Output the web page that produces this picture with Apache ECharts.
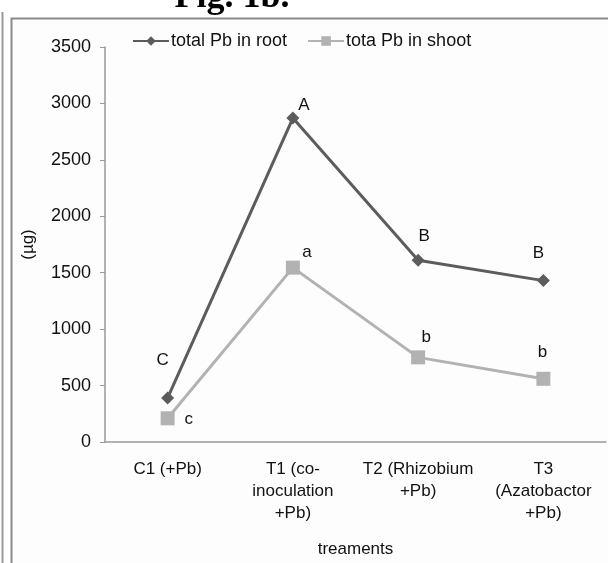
<!DOCTYPE html>
<html><head><meta charset="utf-8">
<script src="https://cdn.jsdelivr.net/npm/echarts@6/dist/echarts.min.js"></script>
<style>html,body{margin:0;padding:0;background:#fff}#c{width:608px;height:563px}</style>
</head><body><div id="c"></div>
<script>
const categories = ['C1 (+Pb)', 'T1 (co-\ninoculation\n+Pb)', 'T2 (Rhizobium\n+Pb)', 'T3\n(Azatobactor\n+Pb)'];
const rootValues = [390, 2870, 1610, 1430];
const shootValues = [210, 1545, 750, 560];
const rootLetters = ['C', 'A', 'B', 'B'];
const shootLetters = ['c', 'a', 'b', 'b'];
const yTicks = [0, 500, 1000, 1500, 2000, 2500, 3000, 3500];

// label placement (style only)
const rootLabelOffsets = [[-5, -21], [11, 4], [6, -7], [-5, -10]];
const shootLabelOffsets = [[21, 19], [14, 2], [8, -3], [-1, -9]];

const chart = echarts.init(document.getElementById('c'), null, {renderer: 'canvas'});
const font = 'Liberation Sans, Arial, sans-serif';
const FS = 17;

function build(vals, letters, offs) {
  return vals.map((v, i) => ({
    value: v,
    label: {show: true, formatter: letters[i], position: 'top', distance: 2, offset: offs[i],
      fontFamily: font, fontSize: FS, color: '#111'}
  }));
}

chart.setOption({
  backgroundColor: '#fff',
  animation: false,
  graphic: [
    {type: 'rect', shape: {x: 11.5, y: 18.5, width: 620, height: 560}, style: {fill: '#fdfdfd', stroke: '#8a8a8a', lineWidth: 2}, z: -10},
    {type: 'line', shape: {x1: 2.5, y1: 12, x2: 2.5, y2: 563}, style: {stroke: '#9a9a9a', lineWidth: 2}, z: -10},
    {type: 'text', x: 232, y: 16, style: {text: 'Fig. 1b.', font: 'bold 36px "Liberation Serif", "Times New Roman", serif', fill: '#000', textAlign: 'center', textVerticalAlign: 'bottom'}}
  ],
  legend: {
    top: 27, left: 127, itemGap: 20, itemWidth: 36, itemHeight: 12,
    textStyle: {fontFamily: font, fontSize: 18, color: '#111', padding: [0, 0, 0, -3]},
    data: ['total Pb in root', 'tota Pb in shoot']
  },
  grid: {left: 105, right: 2, top: 47, bottom: 120, containLabel: false},
  xAxis: {
    type: 'category', data: categories, boundaryGap: true,
    name: 'treaments', nameLocation: 'middle', nameGap: 99,
    nameTextStyle: {fontFamily: font, fontSize: FS, color: '#111'},
    axisLine: {lineStyle: {color: '#999', width: 1.5}},
    axisTick: {show: false},
    axisLabel: {fontFamily: font, fontSize: FS, color: '#111', lineHeight: 22, margin: 16, interval: 0}
  },
  yAxis: {
    type: 'value', min: yTicks[0], max: yTicks[yTicks.length - 1], interval: 500,
    name: '(µg)', nameLocation: 'middle', nameGap: 68, nameRotate: 90,
    nameTextStyle: {fontFamily: font, fontSize: FS, color: '#111'},
    axisLine: {show: true, lineStyle: {color: '#999', width: 1.5}},
    axisTick: {show: true, length: 5, lineStyle: {color: '#999'}},
    axisLabel: {fontFamily: font, fontSize: 18, color: '#111', margin: 14, formatter: v => String(v)},
    splitLine: {show: false}
  },
  series: [
    {name: 'total Pb in root', type: 'line', data: build(rootValues, rootLetters, rootLabelOffsets),
     symbol: 'diamond', symbolSize: 13, itemStyle: {color: '#5c5c5c'}, lineStyle: {color: '#5c5c5c', width: 3}},
    {name: 'tota Pb in shoot', type: 'line', data: build(shootValues, shootLetters, shootLabelOffsets),
     symbol: 'rect', symbolSize: 14, itemStyle: {color: '#b2b2b2'}, lineStyle: {color: '#b2b2b2', width: 3}}
  ]
});
</script></body></html>
